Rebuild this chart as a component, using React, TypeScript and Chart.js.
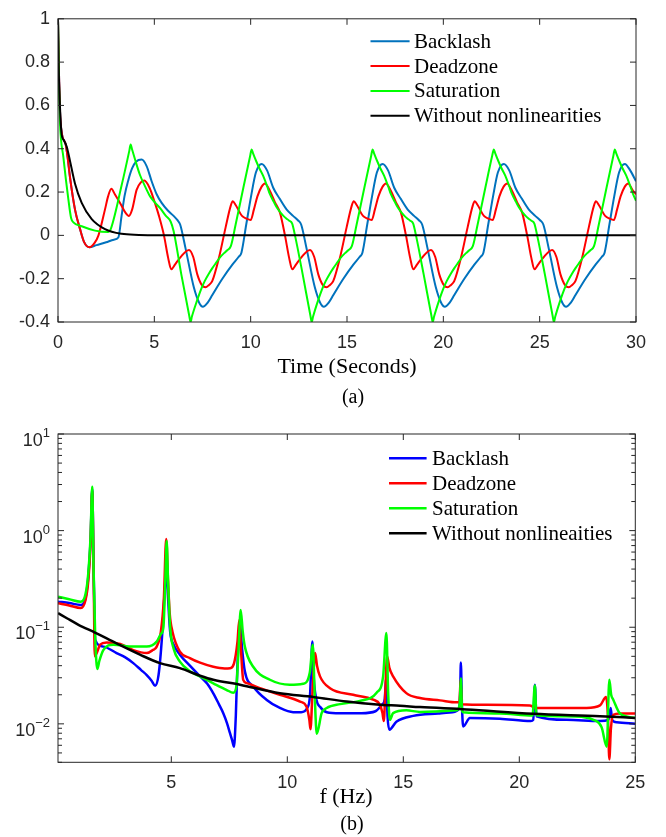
import React, { useEffect, useRef } from 'react';
import { Chart, registerables } from 'chart.js';

Chart.register(...registerables);

const SANS = '"Liberation Sans", Arial, sans-serif';
const SERIF = '"Liberation Serif", "Times New Roman", serif';
const AXIS = '#262626';

// ---------- (a) time response ----------
const TIME_TICKS = [0, 5, 10, 15, 20, 25, 30];
const RESP_TICKS = [-0.4, -0.2, 0, 0.2, 0.4, 0.6, 0.8, 1];

const backlashTime = [
  0, 0.05, 0.1, 0.2, 0.4, 0.5, 0.62, 0.88, 1.14, 1.35,
  1.63, 2.0, 2.5, 2.9, 3.13, 3.3, 3.45, 3.65, 3.85, 4.05,
  4.34, 4.6, 4.86, 5.12, 5.38, 5.7, 6.0, 6.2, 6.34, 6.62,
  7.05, 7.32, 7.52, 7.77, 8.01, 8.53, 9.05, 9.37, 9.52, 9.77,
  10.02, 10.27,
  10.57, 10.85, 11.17, 11.5, 11.86, 12.2, 12.45, 12.62, 12.9, 13.33,
  13.6, 13.8, 14.05, 14.29, 14.81, 15.33, 15.65, 15.8, 16.05, 16.3, 16.55,
  16.85, 17.13, 17.45, 17.78, 18.14, 18.48, 18.73, 18.9, 19.18, 19.61,
  19.88, 20.08, 20.33, 20.57, 21.09, 21.61, 21.93, 22.08, 22.33, 22.58, 22.83,
  23.14, 23.42, 23.74, 24.07, 24.43, 24.77, 25.02, 25.19, 25.47, 25.9,
  26.17, 26.37, 26.62, 26.86, 27.38, 27.9, 28.22, 28.37, 28.62, 28.87, 29.12,
  29.42, 29.7, 30,
];
const backlashResp = [
  1, 0.75, 0.58, 0.47, 0.42, 0.36, 0.27, 0.12, 0.03, -0.03,
  -0.055, -0.045, -0.032, -0.02, -0.01, 0.09, 0.18, 0.255, 0.31, 0.34,
  0.35, 0.32, 0.25, 0.19, 0.15, 0.115, 0.09, 0.07, 0.05, -0.06,
  -0.24, -0.31, -0.33, -0.31, -0.275, -0.2, -0.135, -0.1, -0.08, 0.05,
  0.18, 0.29,
  0.33, 0.3, 0.22, 0.17, 0.12, 0.09, 0.07, 0.05, -0.06, -0.24,
  -0.31, -0.33, -0.31, -0.275, -0.2, -0.135, -0.1, -0.08, 0.05, 0.18, 0.29,
  0.33, 0.3, 0.22, 0.17, 0.12, 0.09, 0.07, 0.05, -0.06, -0.24,
  -0.31, -0.33, -0.31, -0.275, -0.2, -0.135, -0.1, -0.08, 0.05, 0.18, 0.29,
  0.33, 0.3, 0.22, 0.17, 0.12, 0.09, 0.07, 0.05, -0.06, -0.24,
  -0.31, -0.33, -0.31, -0.275, -0.2, -0.135, -0.1, -0.08, 0.05, 0.18, 0.29,
  0.33, 0.3, 0.25,
];

const deadzoneTime = [
  0, 0.05, 0.1, 0.2, 0.4, 0.5, 0.62, 0.88, 1.14, 1.35,
  1.63, 1.9, 2.1, 2.44, 2.6, 2.77, 2.95, 3.22, 3.5, 3.68,
  3.85, 4.08, 4.3, 4.48, 4.75, 5.03, 5.24, 5.5, 5.72, 5.88,
  6.07, 6.32, 6.8, 7.02, 7.23, 7.47, 7.66, 7.82, 8.01, 8.35,
  8.7, 8.96, 9.07, 9.22, 9.55, 9.77, 10.0, 10.17, 10.35, 10.57,
  10.74, 11.0, 11.25, 11.52, 11.78, 12.0, 12.16, 12.35, 12.6, 13.08,
  13.3, 13.51, 13.75, 13.94, 14.1, 14.29, 14.63, 14.98, 15.24, 15.35,
  15.5, 15.83, 16.05, 16.28, 16.45, 16.63, 16.85,
  17.02, 17.28, 17.53, 17.8, 18.06, 18.28, 18.44, 18.63, 18.88, 19.36,
  19.58, 19.79, 20.03, 20.22, 20.38, 20.57, 20.91, 21.26, 21.52, 21.63,
  21.78, 22.11, 22.33, 22.56, 22.73, 22.91, 23.13,
  23.31, 23.57, 23.82, 24.09, 24.35, 24.57, 24.73, 24.92, 25.17, 25.65,
  25.87, 26.08, 26.32, 26.51, 26.67, 26.86, 27.2, 27.55, 27.81, 27.92,
  28.07, 28.4, 28.62, 28.85, 29.02, 29.2, 29.42,
  29.59, 29.85, 30,
];
const deadzoneResp = [
  1, 0.75, 0.58, 0.47, 0.42, 0.36, 0.27, 0.12, 0.03, -0.03,
  -0.055, -0.035, 0, 0.12, 0.18, 0.215, 0.19, 0.15, 0.105, 0.09,
  0.12, 0.21, 0.245, 0.253, 0.22, 0.15, 0.09, 0, -0.105, -0.157,
  -0.135, -0.105, -0.067, -0.1, -0.18, -0.23, -0.24, -0.23, -0.21, -0.105,
  0.037, 0.135, 0.157, 0.14, 0.09, 0.078, 0.071, 0.12, 0.18, 0.225,
  0.24, 0.205, 0.155, 0.105, 0, -0.105, -0.157, -0.135, -0.105, -0.067,
  -0.1, -0.18, -0.23, -0.24, -0.23, -0.21, -0.105, 0.037, 0.135, 0.157,
  0.14, 0.09, 0.078, 0.071, 0.12, 0.18, 0.225,
  0.24, 0.205, 0.155, 0.105, 0, -0.105, -0.157, -0.135, -0.105, -0.067,
  -0.1, -0.18, -0.23, -0.24, -0.23, -0.21, -0.105, 0.037, 0.135, 0.157,
  0.14, 0.09, 0.078, 0.071, 0.12, 0.18, 0.225,
  0.24, 0.205, 0.155, 0.105, 0, -0.105, -0.157, -0.135, -0.105, -0.067,
  -0.1, -0.18, -0.23, -0.24, -0.23, -0.21, -0.105, 0.037, 0.135, 0.157,
  0.14, 0.09, 0.078, 0.071, 0.12, 0.18, 0.225,
  0.24, 0.205, 0.19,
];

const saturationTime = [
  0, 0.05, 0.1, 0.28, 0.54, 0.68, 0.8, 1.23, 1.92, 2.61,
  2.72, 3.3, 3.7, 3.77, 3.85, 4.0, 4.25, 4.5, 4.78, 5.05,
  5.29, 5.6, 5.85, 6.0, 6.4, 6.81, 6.88, 6.95, 7.22, 7.42,
  7.62, 7.82, 8.02, 8.22, 8.42, 8.62, 8.77, 8.97, 9.22, 9.62,
  9.97,
  10.05, 10.12, 10.3, 10.45, 10.65, 10.85, 11.0, 11.2, 11.35, 11.55,
  11.7, 11.85, 12.0, 12.15, 12.3, 12.7, 13.1, 13.17, 13.24, 13.5,
  13.7, 13.9, 14.1, 14.3, 14.5, 14.7, 14.9, 15.05, 15.25, 15.5,
  15.9, 16.25,
  16.33, 16.4, 16.58, 16.73, 16.93, 17.13, 17.28, 17.48, 17.63, 17.83,
  17.98, 18.13, 18.28, 18.43, 18.58, 18.98, 19.38, 19.45, 19.52, 19.78,
  19.98, 20.18, 20.38, 20.58, 20.78, 20.98, 21.18, 21.33, 21.53, 21.78,
  22.18, 22.53,
  22.62, 22.69, 22.87, 23.02, 23.22, 23.42, 23.57, 23.77, 23.92, 24.12,
  24.27, 24.42, 24.57, 24.72, 24.87, 25.27, 25.67, 25.74, 25.81, 26.07,
  26.27, 26.47, 26.67, 26.87, 27.07, 27.27, 27.47, 27.62, 27.82, 28.07,
  28.47, 28.82,
  28.9, 28.97, 29.15, 29.3, 29.5, 29.7, 29.85, 30,
];
const saturationResp = [
  1, 0.7, 0.525, 0.36, 0.165, 0.08, 0.06, 0.042, 0.022, 0.015,
  0.025, 0.23, 0.39, 0.42, 0.395, 0.35, 0.28, 0.23, 0.18, 0.15,
  0.127, 0.09, 0.063, 0.02, -0.18, -0.37, -0.4, -0.375, -0.3, -0.25,
  -0.21, -0.178, -0.15, -0.125, -0.1, -0.082, -0.07, -0.05, 0.05, 0.22,
  0.365,
  0.397, 0.38, 0.34, 0.31, 0.275, 0.228, 0.19, 0.155, 0.13, 0.105,
  0.09, 0.078, 0.068, 0.055, 0, -0.18, -0.37, -0.4, -0.375, -0.3,
  -0.25, -0.21, -0.178, -0.15, -0.125, -0.1, -0.082, -0.07, -0.05, 0.05,
  0.22, 0.365,
  0.397, 0.38, 0.34, 0.31, 0.275, 0.228, 0.19, 0.155, 0.13, 0.105,
  0.09, 0.078, 0.068, 0.055, 0, -0.18, -0.37, -0.4, -0.375, -0.3,
  -0.25, -0.21, -0.178, -0.15, -0.125, -0.1, -0.082, -0.07, -0.05, 0.05,
  0.22, 0.365,
  0.397, 0.38, 0.34, 0.31, 0.275, 0.228, 0.19, 0.155, 0.13, 0.105,
  0.09, 0.078, 0.068, 0.055, 0, -0.18, -0.37, -0.4, -0.375, -0.3,
  -0.25, -0.21, -0.178, -0.15, -0.125, -0.1, -0.082, -0.07, -0.05, 0.05,
  0.22, 0.365,
  0.397, 0.38, 0.34, 0.31, 0.275, 0.228, 0.19, 0.16,
];

const linearTime = [0, 0.03, 0.1, 0.19, 0.3, 0.45, 0.62, 0.88, 1.23, 1.75, 2.44, 3.3, 4.2, 5.03, 30];
const linearResp = [1, 0.8, 0.6, 0.465, 0.44, 0.41, 0.345, 0.24, 0.15, 0.075, 0.029, 0.007, 0.002, 0, 0];

// ---------- (b) spectrum ----------
const FREQ_TICKS = [5, 10, 15, 20, 25];
const MAG_DECADES = [0.01, 0.1, 1, 10];

const backlashFreq = [
  0.12, 0.6, 1.1, 1.3, 1.42, 1.52, 1.59, 1.66, 1.72, 2.07,
  2.64, 3.0, 3.36, 3.7, 3.94, 4.15, 4.3, 4.45, 4.6, 4.72,
  4.78, 4.86, 4.95, 5.1, 5.37, 5.8, 6.24, 6.55, 6.81, 7.05,
  7.24, 7.4, 7.53, 7.62, 7.7, 7.78, 7.85, 7.96, 8.05, 8.17,
  8.53, 9.1, 9.68, 10.25, 10.6, 10.85, 10.98, 11.08, 11.14, 11.25,
  11.41, 11.7, 12.27, 13.2, 13.8, 14.1, 14.2, 14.26, 14.32, 14.4,
  14.7, 15.43, 16.5, 17.0, 17.37, 17.45, 17.48, 17.53, 17.58, 17.87,
  19.16, 20.5, 20.6, 20.67, 20.74, 22.04, 23.48, 23.84, 23.94, 24.0,
  24.2, 25,
];
const backlashMag = [
  0.184, 0.178, 0.17, 0.2, 0.33, 0.8, 2.7, 0.3, 0.074, 0.063,
  0.054, 0.049, 0.0425, 0.036, 0.032, 0.028, 0.0248, 0.032, 0.08, 0.25,
  0.42, 0.2, 0.09, 0.066, 0.052, 0.04, 0.031, 0.026, 0.0207, 0.016,
  0.0129, 0.0102, 0.008, 0.0068, 0.0058, 0.012, 0.04, 0.11, 0.06, 0.035,
  0.0244, 0.0178, 0.0146, 0.0132, 0.0132, 0.0145, 0.02, 0.071, 0.03, 0.018,
  0.015, 0.0132, 0.0129, 0.0129, 0.0135, 0.016, 0.018, 0.03, 0.012, 0.0087,
  0.0105, 0.0121, 0.0128, 0.0131, 0.014, 0.02, 0.0432, 0.015, 0.0094, 0.0115,
  0.0113, 0.0107, 0.011, 0.0254, 0.012, 0.011, 0.0107, 0.011, 0.0146, 0.011,
  0.0104, 0.01,
];

const deadzoneFreq = [
  0.12, 0.6, 1.1, 1.3, 1.42, 1.52, 1.59, 1.66, 1.7, 1.8,
  1.93, 2.21, 2.8, 3.36, 3.94, 4.2, 4.37, 4.55, 4.68, 4.78,
  4.86, 4.93, 5.05, 5.37, 5.8, 6.24, 6.81, 7.3, 7.53, 7.7,
  7.85, 7.93, 8.0, 8.1, 8.25, 8.82, 9.68, 10.55, 10.83, 10.95,
  11.0, 11.08, 11.2, 11.28, 11.41, 11.84, 12.84, 13.7, 13.99, 14.1,
  14.16, 14.22, 14.3, 14.4, 14.56, 15.13, 15.72, 16.58, 17.3, 17.42,
  17.47, 17.52, 18.59, 20.45, 20.6, 20.7, 20.89, 22.9, 23.48, 23.74,
  23.82, 23.88, 23.95, 24.05, 24.34, 25,
];
const deadzoneMag = [
  0.177, 0.168, 0.158, 0.19, 0.3, 0.75, 2.6, 0.25, 0.05, 0.055,
  0.066, 0.0695, 0.067, 0.058, 0.054, 0.058, 0.063, 0.09, 0.2, 0.82,
  0.3, 0.14, 0.09, 0.056, 0.048, 0.043, 0.039, 0.0375, 0.0377, 0.042,
  0.07, 0.119, 0.06, 0.0285, 0.0264, 0.0234, 0.02, 0.017, 0.015, 0.011,
  0.0088, 0.02, 0.054, 0.04, 0.031, 0.0234, 0.02, 0.0178, 0.0158, 0.013,
  0.0107, 0.02, 0.05, 0.038, 0.031, 0.0208, 0.0185, 0.0175, 0.0167, 0.0167,
  0.0286, 0.016, 0.0158, 0.0155, 0.015, 0.0145, 0.0146, 0.0146, 0.0155, 0.019,
  0.012, 0.0043, 0.009, 0.0124, 0.0128, 0.0128,
];

const saturationFreq = [
  0.12, 0.6, 1.1, 1.3, 1.42, 1.52, 1.59, 1.65, 1.72, 1.81,
  1.9, 2.07, 2.5, 3.36, 3.94, 4.37, 4.55, 4.66, 4.74, 4.8,
  4.86, 4.95, 5.1, 5.37, 5.8, 6.24, 6.81, 7.39, 7.67, 7.8,
  7.9, 7.99, 8.08, 8.17, 8.53, 9.25, 10.11, 10.68, 10.97, 11.1,
  11.18, 11.27, 11.48, 11.7, 12.27, 13.13, 13.85, 14.13, 14.27, 14.35,
  14.42, 14.56, 15.13, 15.72, 17.3, 17.43, 17.48, 17.53, 17.58, 19.16,
  20.57, 20.67, 20.74, 22.04, 23.33, 23.55, 23.77, 23.88, 23.96, 24.05,
  24.34, 25,
];
const saturationMag = [
  0.207, 0.195, 0.184, 0.22, 0.36, 0.87, 2.85, 0.4, 0.08, 0.037,
  0.045, 0.058, 0.066, 0.063, 0.063, 0.071, 0.085, 0.1, 0.3, 0.78,
  0.3, 0.1, 0.06, 0.044, 0.035, 0.031, 0.0263, 0.0224, 0.021, 0.024,
  0.06, 0.151, 0.09, 0.063, 0.039, 0.0286, 0.0254, 0.026, 0.034, 0.066,
  0.02, 0.0079, 0.0129, 0.0146, 0.016, 0.0173, 0.021, 0.031, 0.087, 0.02,
  0.011, 0.0129, 0.0138, 0.0133, 0.0138, 0.016, 0.0297, 0.014, 0.0132, 0.0128,
  0.0122, 0.025, 0.0123, 0.012, 0.0107, 0.0092, 0.0058, 0.0286, 0.02, 0.0178,
  0.0128, 0.0115,
];

const linearFreq = [0.12, 0.5, 1.0, 1.71, 2.64, 3.65, 4.51, 5.37, 6.24, 6.81, 7.96, 9.68, 11.12, 12.56, 13.99, 14.86, 15.72, 17.73, 20.6, 23.48, 25];
const linearMag = [0.14, 0.124, 0.106, 0.088, 0.068, 0.052, 0.0425, 0.0377, 0.0315, 0.0286, 0.0254, 0.0207, 0.019, 0.017, 0.0158, 0.0154, 0.0149, 0.0141, 0.0127, 0.012, 0.0115];

const toPoints = (xs: number[], ys: number[]) => xs.map((x, i) => ({ x, y: ys[i] }));

type LegendItem = { label: string; color: string };
type FrameCfg = {
  xTicks: number[];
  yTicks: number[];
  yMinor: number[];
  legend: { x0: number; x1: number; tx: number; y0: number; dy: number; lw: number; size: number; items: LegendItem[] };
  texts: { text: string; x: number; y: number; size: number }[];
  logLabels: number[];
};

function framePlugin(cfg: FrameCfg) {
  return {
    id: 'matlabFrame',
    afterDraw(chart: any) {
      const { ctx, chartArea: a, scales } = chart;
      const xs = scales.x;
      const ys = scales.y;
      ctx.save();
      ctx.strokeStyle = AXIS;
      ctx.lineWidth = 1;
      ctx.strokeRect(a.left, a.top, a.right - a.left, a.bottom - a.top);
      ctx.beginPath();
      cfg.xTicks.forEach((v) => {
        const p = xs.getPixelForValue(v);
        ctx.moveTo(p, a.bottom); ctx.lineTo(p, a.bottom - 6);
        ctx.moveTo(p, a.top); ctx.lineTo(p, a.top + 6);
      });
      cfg.yTicks.forEach((v) => {
        const p = ys.getPixelForValue(v);
        ctx.moveTo(a.left, p); ctx.lineTo(a.left + 6, p);
        ctx.moveTo(a.right, p); ctx.lineTo(a.right - 6, p);
      });
      cfg.yMinor.forEach((v) => {
        const p = ys.getPixelForValue(v);
        ctx.moveTo(a.left, p); ctx.lineTo(a.left + 4, p);
        ctx.moveTo(a.right, p); ctx.lineTo(a.right - 4, p);
      });
      ctx.stroke();

      cfg.logLabels.forEach((d) => {
        const p = ys.getPixelForValue(d);
        const e = Math.round(Math.log10(d));
        const es = e < 0 ? '\u2212' + String(-e) : String(e);
        const right = a.left - 8;
        ctx.fillStyle = AXIS;
        ctx.textAlign = 'left';
        ctx.textBaseline = 'alphabetic';
        ctx.font = `13px ${SANS}`;
        const ew = ctx.measureText(es).width;
        ctx.fillText(es, right - ew, p + 3);
        ctx.font = `18px ${SANS}`;
        const bw = ctx.measureText('10').width;
        ctx.fillText('10', right - ew - bw, p + 12);
      });

      const lg = cfg.legend;
      ctx.font = `${lg.size}px ${SERIF}`;
      ctx.textAlign = 'left';
      ctx.textBaseline = 'middle';
      lg.items.forEach((it, i) => {
        const y = lg.y0 + i * lg.dy;
        ctx.strokeStyle = it.color;
        ctx.lineWidth = lg.lw;
        ctx.beginPath();
        ctx.moveTo(lg.x0, y);
        ctx.lineTo(lg.x1, y);
        ctx.stroke();
        ctx.fillStyle = '#000';
        ctx.fillText(it.label, lg.tx, y + 1);
      });

      ctx.textAlign = 'center';
      ctx.textBaseline = 'alphabetic';
      cfg.texts.forEach((t) => {
        ctx.font = `${t.size}px ${SERIF}`;
        ctx.fillStyle = '#000';
        ctx.fillText(t.text, t.x, t.y);
      });
      ctx.restore();
    },
  };
}

const tickFont = { family: SANS, size: 18 };

function topConfig(): any {
  const common = { pointRadius: 0, borderWidth: 2, fill: false, cubicInterpolationMode: 'monotone' };
  return {
    type: 'line',
    data: {
      datasets: [
        { ...common, label: 'Backlash', data: toPoints(backlashTime, backlashResp), borderColor: '#0072BD', order: 4 },
        { ...common, label: 'Deadzone', data: toPoints(deadzoneTime, deadzoneResp), borderColor: '#FF0000', order: 3 },
        { ...common, label: 'Saturation', data: toPoints(saturationTime, saturationResp), borderColor: '#00FF00', order: 2 },
        { ...common, label: 'Without nonlinearities', data: toPoints(linearTime, linearResp), borderColor: '#000000', order: 1 },
      ],
    },
    options: {
      responsive: false,
      maintainAspectRatio: false,
      animation: false,
      devicePixelRatio: 1,
      layout: { padding: { left: 0, right: 30, top: 11, bottom: 0 } },
      plugins: { legend: { display: false }, tooltip: { enabled: false } },
      scales: {
        x: {
          type: 'linear', min: 0, max: 30,
          grid: { display: false, drawTicks: false }, border: { display: false },
          afterBuildTicks: (s: any) => { s.ticks = TIME_TICKS.map((value) => ({ value })); },
          afterFit: (s: any) => { s.height = 88; },
          ticks: { padding: 10, color: AXIS, font: tickFont, maxRotation: 0, autoSkip: false, callback: (v: any) => String(v) },
        },
        y: {
          type: 'linear', min: -0.4, max: 1,
          grid: { display: false, drawTicks: false }, border: { display: false },
          afterBuildTicks: (s: any) => { s.ticks = RESP_TICKS.map((value) => ({ value })); },
          afterFit: (s: any) => { s.width = 58; },
          ticks: { padding: 8, color: AXIS, font: tickFont, autoSkip: false, callback: (v: any) => String(Math.round(v * 10) / 10) },
        },
      },
    },
    plugins: [
      framePlugin({
        xTicks: TIME_TICKS,
        yTicks: RESP_TICKS,
        yMinor: [],
        logLabels: [],
        legend: {
          x0: 370.5, x1: 409.6, tx: 414, y0: 41.3, dy: 24.8, lw: 2, size: 21,
          items: [
            { label: 'Backlash', color: '#0072BD' },
            { label: 'Deadzone', color: '#FF0000' },
            { label: 'Saturation', color: '#00FF00' },
            { label: 'Without nonlinearities', color: '#000000' },
          ],
        },
        texts: [
          { text: 'Time (Seconds)', x: 347, y: 373, size: 22 },
          { text: '(a)', x: 353, y: 403, size: 20 },
        ],
      }),
    ],
  };
}

function bottomConfig(): any {
  const common = { pointRadius: 0, borderWidth: 2.5, fill: false, cubicInterpolationMode: 'monotone' };
  const minor: number[] = [];
  [-3, -2, -1, 0].forEach((e) => {
    for (let k = 2; k <= 9; k++) {
      const v = k * Math.pow(10, e);
      if (v >= 0.004 && v <= 10) minor.push(v);
    }
  });
  return {
    type: 'line',
    data: {
      datasets: [
        { ...common, label: 'Backlash', data: toPoints(backlashFreq, backlashMag), borderColor: '#0000FF', order: 4 },
        { ...common, label: 'Deadzone', data: toPoints(deadzoneFreq, deadzoneMag), borderColor: '#FF0000', order: 3 },
        { ...common, label: 'Saturation', data: toPoints(saturationFreq, saturationMag), borderColor: '#00FF00', order: 2 },
        { ...common, label: 'Without nonlineaities', data: toPoints(linearFreq, linearMag), borderColor: '#000000', order: 1 },
      ],
    },
    options: {
      responsive: false,
      maintainAspectRatio: false,
      animation: false,
      devicePixelRatio: 1,
      layout: { padding: { left: 0, right: 30.7, top: 24, bottom: 0 } },
      plugins: { legend: { display: false }, tooltip: { enabled: false } },
      scales: {
        x: {
          type: 'linear', min: 0.116, max: 25,
          grid: { display: false, drawTicks: false }, border: { display: false },
          afterBuildTicks: (s: any) => { s.ticks = FREQ_TICKS.map((value) => ({ value })); },
          afterFit: (s: any) => { s.height = 74.7; },
          ticks: { padding: 10, color: AXIS, font: tickFont, maxRotation: 0, autoSkip: false, callback: (v: any) => String(v) },
        },
        y: {
          type: 'logarithmic', min: 0.004, max: 10,
          grid: { display: false, drawTicks: false }, border: { display: false },
          afterFit: (s: any) => { s.width = 58; },
          ticks: { display: false },
        },
      },
    },
    plugins: [
      framePlugin({
        xTicks: FREQ_TICKS,
        yTicks: MAG_DECADES,
        yMinor: minor,
        logLabels: MAG_DECADES,
        legend: {
          x0: 389, x1: 426.6, tx: 432, y0: 48.3, dy: 25, lw: 2.5, size: 21,
          items: [
            { label: 'Backlash', color: '#0000FF' },
            { label: 'Deadzone', color: '#FF0000' },
            { label: 'Saturation', color: '#00FF00' },
            { label: 'Without nonlineaities', color: '#000000' },
          ],
        },
        texts: [
          { text: 'f (Hz)', x: 346, y: 393, size: 22 },
          { text: '(b)', x: 352, y: 420, size: 20 },
        ],
      }),
    ],
  };
}

function ChartCanvas({ make, top, height }: { make: () => any; top: number; height: number }) {
  const ref = useRef<HTMLCanvasElement>(null);
  useEffect(() => {
    const chart = new Chart(ref.current as HTMLCanvasElement, make());
    return () => chart.destroy();
  }, [make]);
  return (
    <canvas
      ref={ref}
      width={666}
      height={height}
      style={{ position: 'absolute', left: 0, top, width: 666, height, display: 'block' }}
    />
  );
}

export default function App() {
  return (
    <div style={{ position: 'absolute', left: 0, top: 0, width: 666, height: 837, background: '#ffffff', overflow: 'hidden' }}>
      <ChartCanvas make={topConfig} top={0} height={410} />
      <ChartCanvas make={bottomConfig} top={410} height={427} />
    </div>
  );
}
